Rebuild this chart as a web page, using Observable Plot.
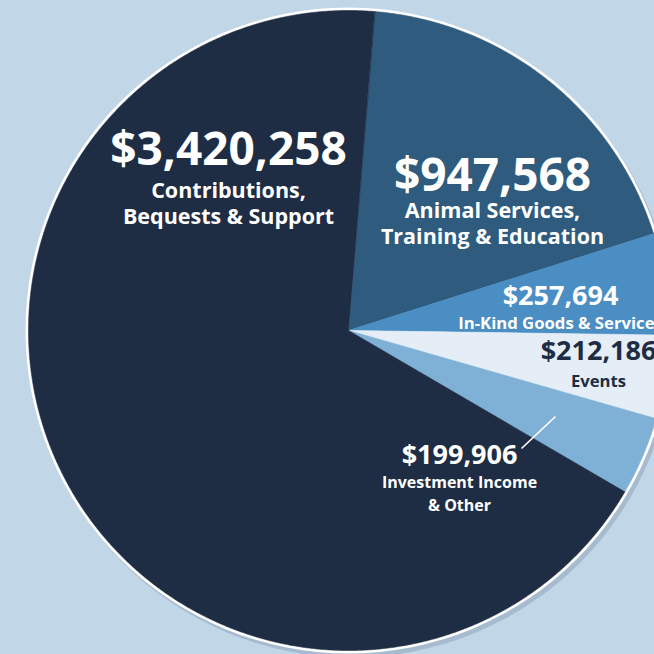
<!DOCTYPE html>
<html><head><meta charset="utf-8">
<script src="https://cdn.jsdelivr.net/npm/d3@7"></script>
<script src="https://cdn.jsdelivr.net/npm/@observablehq/plot@0.6"></script>
<style>
html,body{margin:0;padding:0;background:#c1d6e7;overflow:hidden;width:654px;height:654px}
#chart svg{display:block}
</style>
</head><body><div id="chart"></div>
<script>
// ---- data ----
const categories = [
  "Animal Services, Training & Education",
  "In-Kind Goods & Services",
  "Events",
  "Investment Income & Other",
  "Contributions, Bequests & Support"
];
const values = [947568, 257694, 212186, 199906, 3420258];
const sliceColors = ["#2e5b7e", "#4a8ec4", "#e5eef7", "#7fb1d6", "#1e2d44"];
const nameLines = [
  ["Animal Services,", "Training & Education"],
  ["In-Kind Goods & Services"],
  ["Events"],
  ["Investment Income", "& Other"],
  ["Contributions,", "Bequests & Support"]
];

// ---- layout (pixels) ----
const W = 654, H = 654;
const cx = 348, cy = 330, R = 320;
const startDeg = 4.7;
// label layout: value baseline position, name line baselines, sizes, color
const labelLayout = [
  {x: 492, vy: 190, vSize: 46, ny: [217, 243], nSize: 21.5, color: "white"},
  {x: 560, vy: 304, vSize: 27, ny: [328], nSize: 16.7, color: "white"},
  {x: 598, vy: 359, vSize: 27, ny: [386], nSize: 16.7, color: "#1e2d44"},
  {x: 459, vy: 463, vSize: 27, ny: [487, 510], nSize: 16, color: "white"},
  {x: 228, vy: 164, vSize: 46, ny: [197, 223], nSize: 21.5, color: "white"}
];
const leader = [{x1: 521, y1: 448, x2: 555, y2: 416}];

// ---- geometry from values ----
const table = categories.map((c, i) => ({name: c, value: values[i]}));
const arcs = d3.pie().sort(null).value(d => d.value)
  .startAngle(startDeg * Math.PI / 180)
  .endAngle(startDeg * Math.PI / 180 + 2 * Math.PI)(table);
const wedgePts = [];
arcs.forEach(a => {
  wedgePts.push({name: a.data.name, x: cx, y: cy});
  const n = Math.max(2, Math.ceil((a.endAngle - a.startAngle) / (Math.PI / 720)));
  for (let k = 0; k <= n; k++) {
    const t = a.startAngle + (a.endAngle - a.startAngle) * k / n;
    wedgePts.push({name: a.data.name, x: cx + R * Math.sin(t), y: cy - R * Math.cos(t)});
  }
});

const fmt = d3.format(",");
const textMarks = [];
labelLayout.forEach((L, i) => {
  textMarks.push(Plot.text([L], {
    x: "x", y: "vy", text: () => "$" + fmt(values[i]),
    fontSize: L.vSize, fontWeight: "bold", fontFamily: "Open Sans",
    fill: L.color, lineAnchor: "bottom", textAnchor: "middle"
  }));
  nameLines[i].forEach((line, j) => {
    textMarks.push(Plot.text([L], {
      x: "x", y: d => d.ny[j], text: () => line,
      fontSize: L.nSize, fontWeight: "bold", fontFamily: "Open Sans",
      fill: L.color, lineAnchor: "bottom", textAnchor: "middle"
    }));
  });
});

const chart = Plot.plot({
  width: W, height: H, margin: 0,
  style: {background: "transparent", overflow: "hidden"},
  x: {domain: [0, W], range: [0, W], axis: null},
  y: {domain: [0, H], range: [0, H], axis: null},
  color: {domain: categories, range: sliceColors},
  marks: [
    Plot.dot([{x: cx, y: cy}], {x: "x", y: "y", r: R + 3, fill: "#8fa6bd", fillOpacity: 0.55, stroke: "none", dx: 3, dy: 4}),
    Plot.dot([{x: cx, y: cy}], {x: "x", y: "y", r: R + 3, fill: "white", stroke: "none"}),
    Plot.line(wedgePts, {x: "x", y: "y", z: "name", fill: "name", stroke: "name", strokeWidth: 0.6, curve: "linear-closed"}),
    Plot.link(leader, {x1: "x1", y1: "y1", x2: "x2", y2: "y2", stroke: "white", strokeWidth: 1.6}),
    ...textMarks
  ]
});
document.getElementById("chart").appendChild(chart);
</script>
</body></html>
